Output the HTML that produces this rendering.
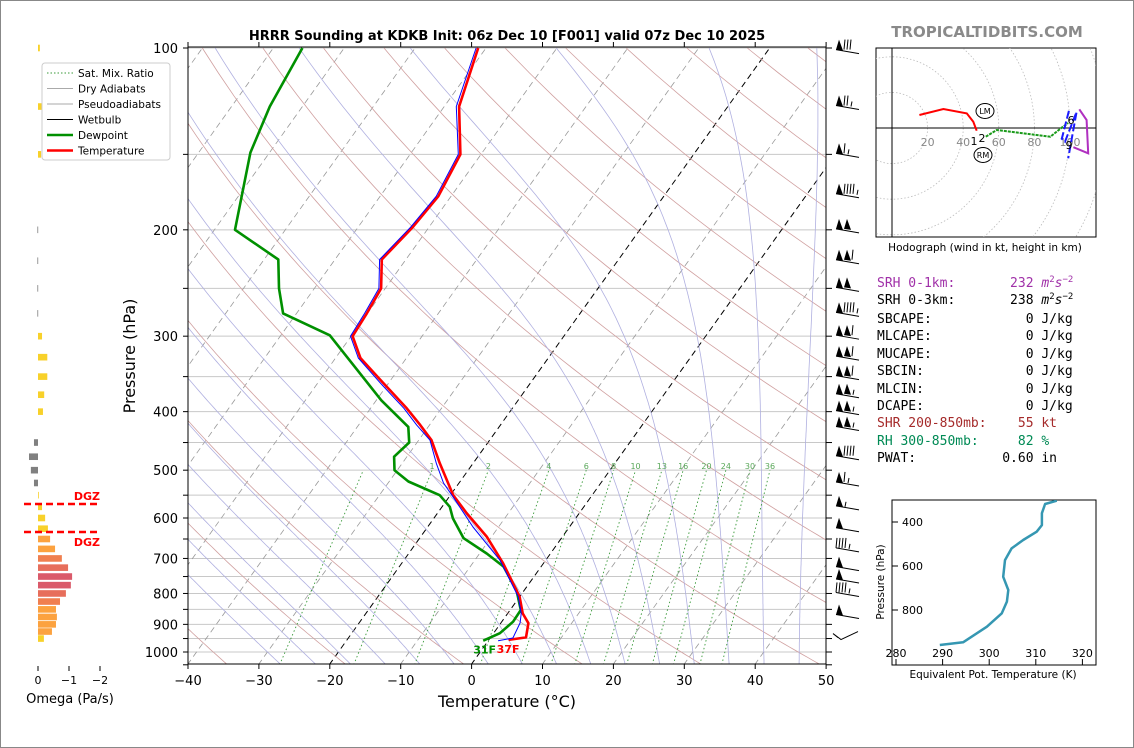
<!DOCTYPE html>
<html><head><meta charset="utf-8"><style>
html,body{margin:0;padding:0;background:#fff}
svg{display:block}
text{font-family:"DejaVu Sans","Liberation Sans",sans-serif}
.mono{font-family:"DejaVu Sans Mono","Liberation Mono",monospace;font-size:13px}
</style></head><body>
<svg id="svg" xmlns="http://www.w3.org/2000/svg" width="1134" height="748" viewBox="0 0 1134 748">
<rect x="0.5" y="0.5" width="1133" height="747" fill="#fff" stroke="#888"/>
<defs><clipPath id="main"><rect x="188" y="47" width="638" height="617"/></clipPath>
<clipPath id="hodo"><rect x="876" y="48" width="220" height="189"/></clipPath>
<clipPath id="te"><rect x="892" y="500" width="204" height="165"/></clipPath></defs>
<text x="507" y="40" text-anchor="middle" font-size="13" font-weight="bold">HRRR Sounding at KDKB Init: 06z Dec 10 [F001] valid 07z Dec 10 2025</text>
<text x="987" y="37" text-anchor="middle" font-size="15" font-weight="bold" fill="#8a8a8a">TROPICALTIDBITS.COM</text>
<g id="bg" clip-path="url(#main)"></g>
<g id="traces" clip-path="url(#main)"></g>
<g id="axes"></g>
<g id="barbs"></g>
<g id="omega"></g>
<g id="legend"></g>
<g id="hodog"></g>
<g id="tepanel"></g>
<g>
<text class="mono" x="877" y="287" fill="#a030a8" xml:space="preserve">SRH 0-1km:       232 <tspan font-style="italic">m</tspan><tspan font-size="9" dy="-5">2</tspan><tspan font-style="italic" dy="5">s</tspan><tspan font-size="9" dy="-5">−2</tspan></text>
<text class="mono" x="877" y="304" xml:space="preserve">SRH 0-3km:       238 <tspan font-style="italic">m</tspan><tspan font-size="9" dy="-5">2</tspan><tspan font-style="italic" dy="5">s</tspan><tspan font-size="9" dy="-5">−2</tspan></text>
<text class="mono" x="877" y="323" xml:space="preserve">SBCAPE:            0 J/kg</text>
<text class="mono" x="877" y="340" xml:space="preserve">MLCAPE:            0 J/kg</text>
<text class="mono" x="877" y="358" xml:space="preserve">MUCAPE:            0 J/kg</text>
<text class="mono" x="877" y="375" xml:space="preserve">SBCIN:             0 J/kg</text>
<text class="mono" x="877" y="393" xml:space="preserve">MLCIN:             0 J/kg</text>
<text class="mono" x="877" y="410" xml:space="preserve">DCAPE:             0 J/kg</text>
<text class="mono" x="877" y="427" fill="#a52a2a" xml:space="preserve">SHR 200-850mb:    55 kt</text>
<text class="mono" x="877" y="445" fill="#008a55" xml:space="preserve">RH 300-850mb:     82 %</text>
<text class="mono" x="877" y="462" xml:space="preserve">PWAT:           0.60 in</text>
</g>
</svg>
<script>
// ---- data ----
var tempP=[100,125,150,176,198,224,250,275,300,326,359,395,421,446,487,550,589,644,713,810,863,896,946,955];
var tempT=[-61.1,-57.9,-52.9,-51.8,-52.3,-53.4,-50.6,-50.1,-49.8,-46.5,-40.7,-34.9,-31.3,-28.2,-24.7,-19.6,-15.9,-10.7,-5.7,0.0,2.1,3.9,5.0,2.8];
var dewP=[100,125,149,200,224,250,275,299,383,424,450,475,500,522,550,575,601,648,687,722,790,852,891,931,958];
var dewT=[-85.9,-84.6,-82.7,-77.1,-68.0,-65.0,-61.9,-53.1,-39.3,-32.8,-31.1,-31.8,-30.4,-27.3,-21.5,-18.9,-17.3,-13.8,-9.0,-5.3,-1.1,1.5,1.6,0.9,-0.7];
var wbP=[100,125,150,176,198,224,250,275,300,326,359,395,421,446,487,525,554,621,704,810,863,895,948,958];
var wbT=[-61.4,-58.3,-53.2,-52.1,-52.6,-53.7,-50.9,-50.4,-50.1,-46.8,-41.1,-35.3,-31.8,-28.4,-25.2,-22.2,-19.4,-13.6,-6.5,-0.2,1.9,2.7,3.2,1.4];
var pTicks=[100,200,300,400,500,600,700,800,900,1000];
var tTicks=[-40,-30,-20,-10,0,10,20,30,40,50];
var mixRatios=[0.4,1,2,4,6,8,10,13,16,20,24,30,36];
var mixLabels=["","1","2","4","6","8","10","13","16","20","24","30","36"];
var barbP=[101,125,150,175,200,225,250,275,300,325,350,375,400,425,475,525,575,625,675,725,760,800,870,925];
var barbSpd=[80,75,65,95,100,110,100,95,110,110,110,105,105,105,90,65,55,50,45,50,50,45,50,10];
var omegaP=[100,125,150,200,225,250,275,300,325,350,375,400,450,475,500,525,550,575,600,625,650,675,700,725,750,775,800,825,850,875,900,925,950];
var omegaV=[-0.06,-0.13,-0.1,0.02,0.02,0.02,0.02,-0.13,-0.3,-0.3,-0.2,-0.16,0.13,0.29,0.23,0.13,-0.02,-0.13,-0.23,-0.32,-0.39,-0.55,-0.77,-0.97,-1.1,-1.06,-0.9,-0.71,-0.58,-0.61,-0.58,-0.45,-0.19];
var hodoRedU=[15.4,28.9,42,45.7,47.6], hodoRedV=[7.3,10.7,8.2,3.5,-1.5];
var hodoGreenU=[52.7,58.8,89,95.4,99], hodoGreenV=[-4.9,-1.1,-4.9,0.2,2.8];
var hodoBlueU=[99.4,95.4,97.2,103.7,99], hodoBlueV=[9.6,-6,-7.7,9.1,-17];
var hodoMagU=[105.2,109.3,110.2,101.9], hodoMagV=[10.5,4.5,-14.2,-10.8];
var teTheta=[289.4,294.4,299.5,302.7,303.8,304.1,303.0,303.4,304.8,307.3,310.2,311.3,311.3,312.0,314.5];
var teP=[959,947,876,815,762,709,649,573,520,482,444,414,360,318,303];
var teXTicks=[280,290,300,310,320];
var teYTicks=[400,600,800];

// ---- helpers ----
var NS="http://www.w3.org/2000/svg";
function mk(tag,attrs,parent){var e=document.createElementNS(NS,tag);for(var k in attrs)e.setAttribute(k,attrs[k]);parent.appendChild(e);return e;}
function Y(p){return 48+604*Math.log10(p/100);}
function X(T,p){return 188+(T+40)*7.09+0.714*(664-Y(p));}
function pathFrom(Ts,Ps){var d="";for(var i=0;i<Ts.length;i++)d+=(i?"L":"M")+X(Ts[i],Ps[i]).toFixed(1)+","+Y(Ps[i]).toFixed(1);return d;}
var bg=document.getElementById('bg'),tr=document.getElementById('traces'),ax=document.getElementById('axes');
var a,l,t;

for(var p=100;p<=1050;p+=50){l=mk('line',{x1:188,x2:826,y1:Y(p),y2:Y(p),stroke:'#c8c8c8','stroke-width':1},bg);

}
for(var T=-140;T<=50;T+=10){l=mk('line',{x1:X(T,1050),y1:Y(1050),x2:X(T,100),y2:Y(100),stroke:(T==0||T==-20)?'#000':'#999','stroke-width':(T==0||T==-20)?1:0.8,'stroke-dasharray':'6,4'},bg);

}
for(var th=219;th<=560;th+=16.5){var d="";for(var p=1050;p>=100;p-=10){var tt=th*Math.pow(p/1000,0.286)-273.15;d+=(p==1050?"M":"L")+X(tt,p).toFixed(1)+","+Y(p).toFixed(1);}
l=mk('path',{d:d,fill:'none',stroke:'#d0a0a0','stroke-width':0.8},bg);

}
function es(x){return 6.112*Math.exp(17.67*x/(x+243.5));}
function dTdp(x,p){var Tk=x+273.15,rs=0.622*es(x)/(p-es(x)),Lv=2.5e6,Rd=287,cp=1005;
return (Rd*Tk+Lv*rs)/(p*(cp+Lv*Lv*rs*0.622/(Rd*Tk*Tk)));}
for(var t0=-30;t0<=45;t0+=5){var pts=[];var tt=t0;for(var p=1000;p<=1050;p+=5){pts.push([tt,p]);tt+=dTdp(tt,p)*5;}
pts.reverse();tt=t0;for(var p=1000;p>=100;p-=5){if(p<1000)pts.push([tt,p]);tt-=dTdp(tt,p)*5;}
var d="";pts.forEach(function(q,i){d+=(i?"L":"M")+X(q[0],q[1]).toFixed(1)+","+Y(q[1]).toFixed(1);});
l=mk('path',{d:d,fill:'none',stroke:'#b0b0e0','stroke-width':0.8},bg);

}
function tdw(w,p){var e=w*p/(622+w);var g=Math.log(e/6.112);return 243.5*g/(17.67-g);}
mixRatios.forEach(function(w,i){var ln=mk('line',{x1:X(tdw(w,1050),1050),y1:Y(1050),x2:X(tdw(w,500),500),y2:Y(500),stroke:'#3a9a3a','stroke-width':0.9,'stroke-dasharray':'1.5,2.5'},bg);


var lab=mk('text',{x:X(tdw(w,500),500),y:Y(500)-1,'font-size':8,fill:'#5aa85a','text-anchor':'middle'},bg);lab.textContent=mixLabels[i];

});

a=mk('path',{d:pathFrom(dewT,dewP),fill:'none',stroke:'#009000','stroke-width':2.6,'stroke-linejoin':'round'},tr);


a=mk('path',{d:pathFrom(tempT,tempP),fill:'none',stroke:'#ff0000','stroke-width':2.6,'stroke-linejoin':'round'},tr);


a=mk('path',{d:pathFrom(wbT,wbP),fill:'none',stroke:'#0000ff','stroke-width':1,'stroke-linejoin':'round'},tr);


a=mk('text',{x:X(dewT[dewT.length-1],dewP[dewP.length-1])-10,y:Y(dewP[dewP.length-1])+13,'font-size':11,'font-weight':'bold',fill:'#009000'},tr);a.textContent="31F";


a=mk('text',{x:X(tempT[tempT.length-1],tempP[tempP.length-1])-12,y:Y(tempP[tempP.length-1])+13,'font-size':11,'font-weight':'bold',fill:'#ff0000'},tr);a.textContent="37F";



a=mk('rect',{x:188,y:47,width:638,height:617,fill:'none',stroke:'#000','stroke-width':1},ax);


for(var p=100;p<=1050;p+=50){mk('line',{x1:826,x2:832,y1:Y(p),y2:Y(p),stroke:'#000'},ax);mk('line',{x1:183,x2:188,y1:Y(p),y2:Y(p),stroke:'#000'},ax);}
pTicks.forEach(function(p){var e=mk('text',{x:178,y:Y(p)+5,'font-size':13,'text-anchor':'end'},ax);e.textContent=p;

});
tTicks.forEach(function(T){var x=188+(T+40)*7.09;mk('line',{x1:x,x2:x,y1:664,y2:669,stroke:'#000'},ax);mk('line',{x1:x,x2:x,y1:47,y2:42,stroke:'#000'},ax);
var e=mk('text',{x:x,y:685,'font-size':13,'text-anchor':'middle'},ax);e.textContent=(T<0?'−':'')+Math.abs(T);

});
a=mk('text',{x:507,y:707,'font-size':16,'text-anchor':'middle'},ax);a.textContent="Temperature (°C)";


a=mk('text',{x:135,y:356,'font-size':16,'text-anchor':'middle',transform:'rotate(-90 135 356)'},ax);a.textContent="Pressure (hPa)";



var bb=document.getElementById('barbs');
barbP.forEach(function(p,i){var y=Y(p)-2,s=barbSpd[i];var g=mk('g',{},bb);


if(i==barbP.length-1){mk('path',{d:'M833,'+(y+4)+'L841,'+(y+10)+'L858,'+(y+2)+'M833,'+(y+4)+'L838,'+(y+8),fill:'none',stroke:'#000'},g);return;}
mk('line',{x1:836,y1:y+1,x2:859,y2:y+5,stroke:'#000','stroke-width':1},g);
var x=836,r=Math.round(s/5)*5;
while(r>=50){mk('path',{d:'M'+x+','+(y+1)+'L'+(x+3)+','+(y-9)+'L'+(x+7)+','+(y+2)+'Z',fill:'#000'},g);x+=8;r-=50;}
while(r>=10){mk('line',{x1:x,y1:y+1,x2:x+1,y2:y-9,stroke:'#000'},g);x+=3;r-=10;}
if(r>=5){mk('line',{x1:x+1,y1:y+2,x2:x+2,y2:y-3,stroke:'#000'},g);}
});

var om=document.getElementById('omega');
function ox(v){return 38-v*31;}
omegaP.forEach(function(p,i){var v=omegaV[i];var m=Math.abs(v);var c;
if(v>0)c='#808080';else if(m<0.35)c='#f8d12a';else if(m<0.65)c='#fca23f';else if(m<0.85)c='#f07f4f';else if(m<1.0)c='#e76e5b';else c='#da5a6a';
var x1=Math.min(ox(0),ox(v)),w=Math.max(Math.abs(ox(v)-ox(0)),0.8);
var r=mk('rect',{x:x1,y:Y(p)-3.3,width:w,height:6.6,fill:c},om);

});
[0,-1,-2].forEach(function(v){mk('line',{x1:ox(v),x2:ox(v),y1:666,y2:671,stroke:'#000'},om);
var e=mk('text',{x:ox(v),y:684,'font-size':11,'text-anchor':'middle'},om);e.textContent=v==0?'0':'−'+Math.abs(v);

});
a=mk('text',{x:70,y:703,'font-size':13,'text-anchor':'middle'},om);a.textContent="Omega (Pa/s)";


[504,532].forEach(function(y,i){var ln=mk('line',{x1:24,x2:99,y1:y,y2:y,stroke:'#ff0000','stroke-width':2.5,'stroke-dasharray':'7,4'},om);


var e=mk('text',{x:100,y:i==0?y-4:y+14,'font-size':11,'font-weight':'bold',fill:'#ff0000','text-anchor':'end'},om);e.textContent="DGZ";

});

var lg=document.getElementById('legend');
mk('rect',{x:42,y:63,width:128,height:97,rx:3,fill:'#fff','fill-opacity':0.9,stroke:'#ccc'},lg);
var items=[["Sat. Mix. Ratio",'#3a9a3a',1,'1.5,2'],["Dry Adiabats",'#aaa',1,''],["Pseudoadiabats",'#aaa',1,''],["Wetbulb",'#000',1,''],["Dewpoint",'#009000',2.5,''],["Temperature",'#ff0000',2.5,'']];
items.forEach(function(it,i){var y=73+i*15.5;var g=mk('g',{},lg);


var at={x1:47,x2:73,y1:y,y2:y,stroke:it[1],'stroke-width':it[2]};if(it[3])at['stroke-dasharray']=it[3];mk('line',at,g);
var e=mk('text',{x:78,y:y+4,'font-size':10.5},g);e.textContent=it[0];});

var hg=document.getElementById('hodog');var ox0=892,oy0=128,ks=1.78;
mk('rect',{x:876,y:48,width:220,height:189,fill:'#fff',stroke:'#000'},hg);
var hc=mk('g',{'clip-path':'url(#hodo)'},hg);
for(var r=20;r<=140;r+=20)mk('circle',{cx:ox0,cy:oy0,r:r*ks,fill:'none',stroke:'#bbb','stroke-dasharray':'1.5,2','stroke-width':0.8},hc);
mk('line',{x1:876,x2:1096,y1:oy0,y2:oy0,stroke:'#000'},hc);mk('line',{x1:ox0,x2:ox0,y1:48,y2:237,stroke:'#000'},hc);
for(var r=20;r<=100;r+=20){var e=mk('text',{x:ox0+r*ks,y:146,'font-size':11,fill:'#888','text-anchor':'middle'},hc);e.textContent=r;}
function hp(U,V,col,name,dash){var d="";U.forEach(function(u,i){d+=(i?"L":"M")+(ox0+u*ks).toFixed(1)+","+(oy0-V[i]*ks).toFixed(1);});
var at={d:d,fill:'none',stroke:col,'stroke-width':2};if(dash)at['stroke-dasharray']=dash;var e=mk('path',at,hc);

}
hp(hodoRedU,hodoRedV,'#ff0000','hodograph-0-3km');
hp(hodoGreenU,hodoGreenV,'#1a9a1a','hodograph-3-6km','3,1');
hp(hodoBlueU,hodoBlueV,'#1a1aff','hodograph-6-9km','8,3');
hp(hodoMagU,hodoMagV,'#b030c0','hodograph-9-12km');
[["1",974,145],["2",982,142],["6",1071,124],["9",1069,149]].forEach(function(q){var e=mk('text',{x:q[1],y:q[2],'font-size':11,'text-anchor':'middle'},hc);e.textContent=q[0];});
[["LM",985,111],["RM",983,155]].forEach(function(q){mk('ellipse',{cx:q[1],cy:q[2],rx:9,ry:7.5,fill:'#fff',stroke:'#000'},hc);var e=mk('text',{x:q[1],y:q[2]+3,'font-size':8,'text-anchor':'middle'},hc);e.textContent=q[0];});
a=mk('text',{x:985,y:251,'font-size':10.5,'text-anchor':'middle'},hg);a.textContent="Hodograph (wind in kt, height in km)";



var tp=document.getElementById('tepanel');
function teX(th){return 896+(th-280)*4.66;}function teY(p){return 522+(p-400)*0.22;}
mk('rect',{x:892,y:500,width:204,height:165,fill:'#fff',stroke:'#000'},tp);
teXTicks.forEach(function(v){mk('line',{x1:teX(v),x2:teX(v),y1:665,y2:659,stroke:'#000'},tp);var e=mk('text',{x:teX(v),y:657,'font-size':11,'text-anchor':'middle'},tp);e.textContent=v;

});
teYTicks.forEach(function(v){mk('line',{x1:892,x2:898,y1:teY(v),y2:teY(v),stroke:'#000'},tp);var e=mk('text',{x:902,y:teY(v)+4,'font-size':11},tp);e.textContent=v;

});
var dd="";teTheta.forEach(function(v,i){dd+=(i?"L":"M")+teX(v).toFixed(1)+","+teY(teP[i]).toFixed(1);});
a=mk('path',{d:dd,fill:'none',stroke:'#3597b2','stroke-width':2.5,'clip-path':'url(#te)','stroke-linejoin':'round'},tp);


a=mk('text',{x:993,y:678,'font-size':10.5,'text-anchor':'middle'},tp);a.textContent="Equivalent Pot. Temperature (K)";


a=mk('text',{x:884,y:582,'font-size':10.5,'text-anchor':'middle',transform:'rotate(-90 884 582)'},tp);a.textContent="Pressure (hPa)";


</script>
</body></html>
